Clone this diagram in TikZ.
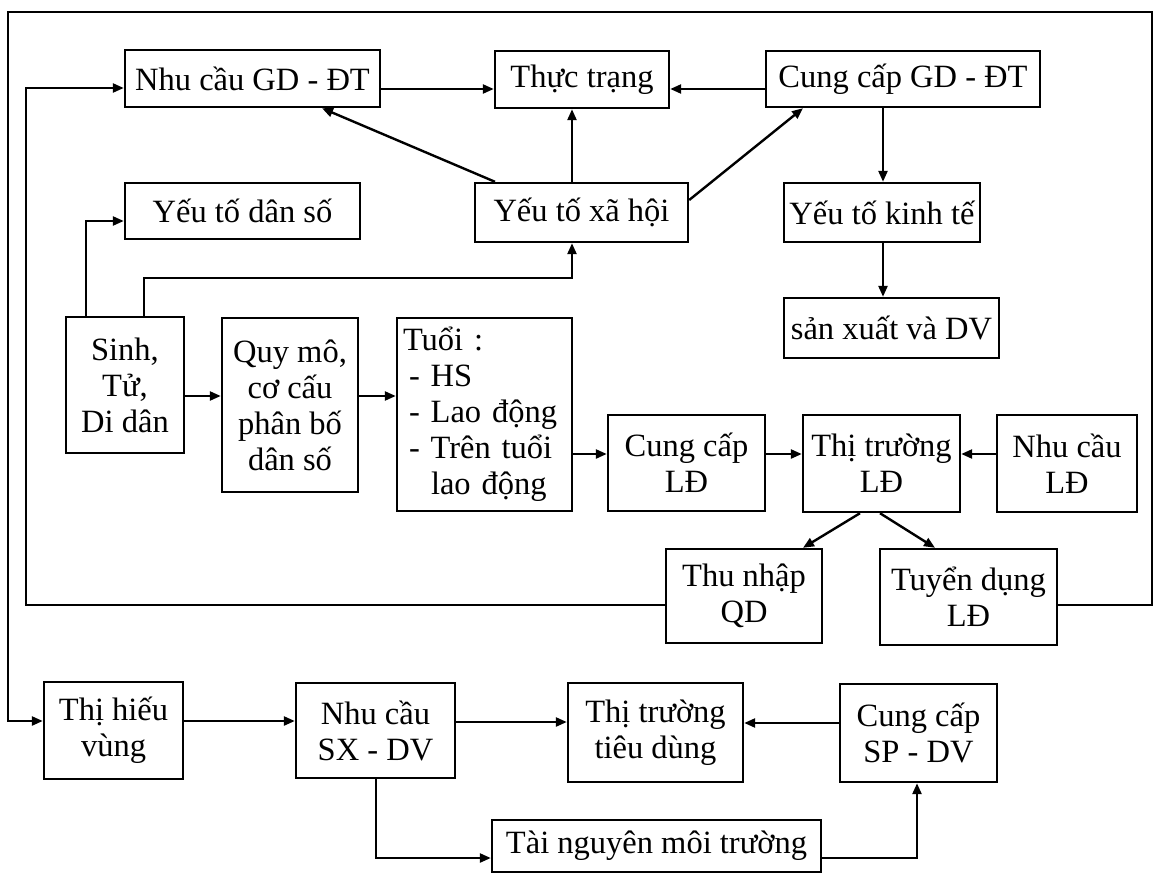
\documentclass[tikz,border=0pt]{standalone}
\usepackage{fontspec}
\setmainfont{Liberation Serif}
\usetikzlibrary{arrows.meta}
\tikzset{
  box/.style={draw, line width=2.4pt, inner sep=0pt, align=center,
    font=\fontsize{32.5}{36}\selectfont},
  arr/.style={line width=2.4pt, -{Triangle[length=11pt,width=9pt]}},
  ln/.style={line width=2.4pt}
}
\newcommand{\boxat}[7][]{%
  \node[box,#1,minimum width={(#5-#3)*1pt},minimum height={(#6-#4)*1pt}]
    (#2) at ({(#3+#5)/2},{(#4+#6)/2}) {#7};}
\begin{document}
\begin{tikzpicture}[x=1pt,y=-1pt]
\useasboundingbox (0,0) rectangle (1154,875);
% boxes
\boxat{nhu}{125}{50}{380}{107}{Nhu cầu GD - ĐT}
\boxat{thuc}{495}{51}{669}{108}{Thực trạng}
\boxat{cung}{766}{51}{1040}{107}{Cung cấp GD - ĐT}
\boxat{danso}{125}{183}{360}{239}{Yếu tố dân số}
\boxat{xahoi}{475}{183}{688}{242}{Yếu tố xã hội}
\boxat{kinh}{784}{183}{980}{242}{Yếu tố kinh tế}
\boxat{sx}{784}{298}{999}{358}{sản xuất và DV}
\boxat{sinh}{66}{317}{184}{453}{Sinh,\\Tử,\\Di dân}
\boxat{quymo}{222}{318}{358}{492}{Quy mô,\\cơ cấu\\phân bố\\dân số}
\boxat[align=left,text width=163pt]{tuoi}{397}{318}{572}{511}{Tuổi :\\\hspace*{6pt}- HS\\\hspace*{6pt}- Lao động\\\hspace*{6pt}- Trên tuổi\\\hspace*{28pt}lao động}
\boxat{cungld}{608}{415}{765}{511}{Cung cấp\\LĐ}
\boxat{thitruong}{803}{415}{960}{512}{Thị trường\\LĐ}
\boxat{nhuld}{997}{415}{1137}{512}{Nhu cầu\\LĐ}
\boxat{thu}{666}{549}{822}{643}{Thu nhập\\QD}
\boxat{tuyen}{880}{549}{1057}{645}{Tuyển dụng\\LĐ}
\boxat{thihieu}{44}{682}{183}{779}{Thị hiếu\\vùng}
\boxat{nhusx}{296}{683}{455}{778}{Nhu cầu\\SX - DV}
\boxat{thitruongtd}{568}{683}{743}{782}{Thị trường\\tiêu dùng}
\boxat{cungsp}{840}{684}{997}{782}{Cung cấp\\SP - DV}
\boxat{tainguyen}{492}{820}{821}{872}{Tài nguyên môi trường}
% loops
\draw[arr] (thu.west |- 0,605) -- (26,605) -- (26,88) -- (nhu.west |- 0,88);
\draw[arr] (tuyen.east |- 0,605) -- (1152,605) -- (1152,12) -- (8,12) -- (8,721) -- (thihieu.west |- 0,721);
% top
\draw[arr] (nhu.east |- 0,89) -- (thuc.west |- 0,89);
\draw[arr] (cung.west |- 0,89) -- (thuc.east |- 0,89);
\draw[arr] (xahoi.north -| 572,0) -- (thuc.south -| 572,0);
\draw[arr] (xahoi.north -| 495,0) -- (nhu.south -| 322,0);
\draw[arr] (xahoi.east |- 0,200) -- (cung.south -| 803,0);
\draw[arr] (cung.south -| 883,0) -- (kinh.north -| 883,0);
\draw[arr] (kinh.south -| 883,0) -- (sx.north -| 883,0);
\draw[arr] (sinh.north -| 86,0) |- (danso.west |- 0,221);
\draw[arr] (sinh.north -| 144,0) -- (144,278) -| (xahoi.south -| 572,0);
% middle
\draw[arr] (sinh.east |- 0,396) -- (quymo.west |- 0,396);
\draw[arr] (quymo.east |- 0,396) -- (tuoi.west |- 0,396);
\draw[arr] (tuoi.east |- 0,454) -- (cungld.west |- 0,454);
\draw[arr] (cungld.east |- 0,454) -- (thitruong.west |- 0,454);
\draw[arr] (nhuld.west |- 0,454) -- (thitruong.east |- 0,454);
\draw[arr] (thitruong.south -| 860,0) -- (thu.north -| 803,0);
\draw[arr] (thitruong.south -| 880,0) -- (tuyen.north -| 935,0);
% bottom
\draw[arr] (thihieu.east |- 0,721) -- (nhusx.west |- 0,721);
\draw[arr] (nhusx.east |- 0,722) -- (thitruongtd.west |- 0,722);
\draw[arr] (cungsp.west |- 0,723) -- (thitruongtd.east |- 0,723);
\draw[arr] (nhusx.south -| 376,0) |- (tainguyen.west |- 0,858);
\draw[arr] (tainguyen.east |- 0,858) -| (cungsp.south -| 917,0);
\end{tikzpicture}
\end{document}
